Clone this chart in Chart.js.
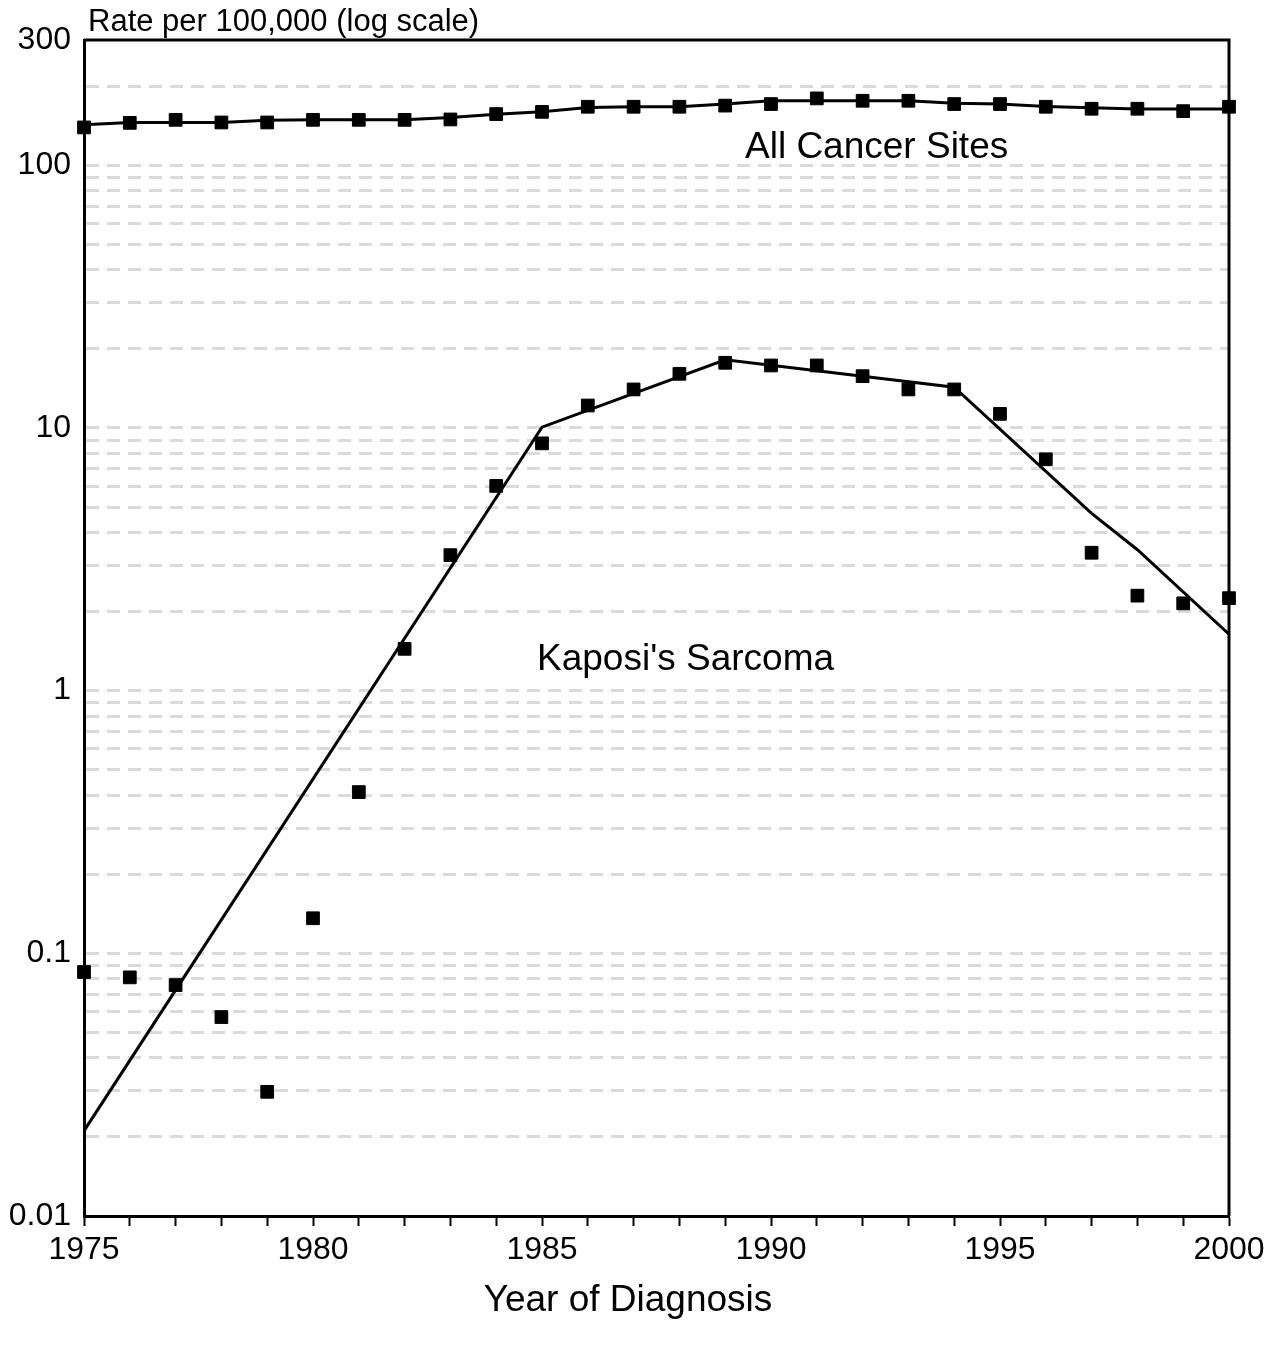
<!DOCTYPE html>
<html lang="en">
<head>
  <meta charset="UTF-8" />
  <title>Kaposi's Sarcoma vs All Cancer Sites</title>
  <style>
    body { margin: 0; background: #fff; }
  </style>
</head>
<body>

  <div style="width: 1280px; height: 1347px;">
    <canvas id="myChart"></canvas>
  </div>

  <script src="https://cdn.jsdelivr.net/npm/chart.js"></script>

  <script>
    // years of diagnosis
    const years = [1975, 1976, 1977, 1978, 1979, 1980, 1981, 1982, 1983, 1984, 1985, 1986, 1987,
                   1988, 1989, 1990, 1991, 1992, 1993, 1994, 1995, 1996, 1997, 1998, 1999, 2000];

    // rate per 100,000 - observed points
    const allSitesObserved = [139.4, 145.1, 149.0, 145.6, 145.6, 149.0, 149.0, 149.0, 149.5, 156.7, 159.8, 167.1, 167.1,
                              167.1, 168.8, 171.1, 179.8, 176.1, 176.1, 171.1, 171.1, 167.1, 164.2, 164.2, 160.8, 167.1];
    // fitted trend
    const allSitesFitted = [142.6, 145.6, 145.6, 145.6, 148.3, 149.0, 149.0, 149.0, 152.2, 156.5, 159.8, 165.9, 167.1,
                            167.1, 171.1, 176.1, 176.1, 176.1, 176.1, 172.2, 171.1, 167.6, 165.6, 163.7, 163.7, 163.7];

    const kaposiObserved = [0.0849, 0.0810, 0.0757, 0.0572, 0.0297, 0.136, 0.411, 1.443, 3.28, 6.02, 8.74, 12.18, 14.02,
                            16.08, 17.71, 17.30, 17.30, 15.75, 14.02, 14.02, 11.32, 7.60, 3.35, 2.30, 2.15, 2.25];
    // joinpoint trend: only the bend points
    const kaposiJoinYears = [1975, 1985, 1989, 1994, 1997, 1998, 2000];
    const kaposiJoinFitted = [0.0211, 10.07, 18.19, 14.3, 4.73, 3.44, 1.64];

    // axis labels
    const yLabelValues = [0.01, 0.1, 1, 10, 100, 300];
    const yLabelText = ['0.01', '0.1', '1', '10', '100', '300'];
    const yDecades = [0.01, 0.1, 1, 10, 100];
    const xLabelStep = 5;

    const toPoints = (xs, ys) => xs.map((x, i) => ({ x: x, y: ys[i] }));
    const near = (a, b) => Math.abs(a - b) / b < 1e-6;

    // top + right edge of the plot box, and free text
    const framePlugin = {
      id: 'frame',
      beforeDatasetsDraw(chart) {
        const { ctx, chartArea: a } = chart;
        ctx.save();
        ctx.strokeStyle = '#000';
        ctx.lineWidth = 3;
        ctx.beginPath();
        ctx.moveTo(a.left, a.top);
        ctx.lineTo(a.right, a.top);
        ctx.lineTo(a.right, a.bottom);
        ctx.stroke();
        ctx.restore();
      },
      afterDraw(chart) {
        const { ctx, chartArea: a } = chart;
        ctx.save();
        ctx.fillStyle = '#000';
        ctx.textBaseline = 'alphabetic';
        ctx.textAlign = 'left';
        ctx.font = '31px "Liberation Sans", Arial, sans-serif';
        ctx.fillText('Rate per 100,000 (log scale)', a.left + 4, 31);
        ctx.font = '37px "Liberation Sans", Arial, sans-serif';
        ctx.fillText('All Cancer Sites', 745, 158);
        ctx.fillText("Kaposi's Sarcoma", 537, 670);
        ctx.textAlign = 'center';
        ctx.fillText('Year of Diagnosis', 628, 1311);
        ctx.restore();
      }
    };

    const pointStyleOpts = {
      showLine: false,
      pointStyle: 'rect',
      pointRadius: 9,
      pointHoverRadius: 9,
      pointBackgroundColor: '#000',
      pointBorderColor: '#000',
      pointBorderWidth: 1,
      clip: false
    };
    const lineStyleOpts = {
      borderColor: '#000',
      borderWidth: 3,
      pointRadius: 0,
      pointHoverRadius: 0,
      fill: false,
      tension: 0
    };

    Chart.defaults.font.family = '"Liberation Sans", Arial, sans-serif';
    Chart.defaults.color = '#000';

    var context = document.getElementById('myChart').getContext('2d');
    var myChart = new Chart(context, {
      type: 'line',
      data: {
        datasets: [
          Object.assign({ label: 'All Cancer Sites (fit)', data: toPoints(years, allSitesFitted) }, lineStyleOpts),
          Object.assign({ label: 'All Cancer Sites', data: toPoints(years, allSitesObserved) }, pointStyleOpts),
          Object.assign({ label: "Kaposi's Sarcoma (fit)", data: toPoints(kaposiJoinYears, kaposiJoinFitted) }, lineStyleOpts),
          Object.assign({ label: "Kaposi's Sarcoma", data: toPoints(years, kaposiObserved) }, pointStyleOpts)
        ]
      },
      options: {
        responsive: true,
        maintainAspectRatio: false,
        animation: false,
        layout: { padding: { top: 40, right: 51, left: 0, bottom: 0 } },
        plugins: {
          legend: { display: false },
          tooltip: { enabled: false }
        },
        scales: {
          x: {
            type: 'linear',
            min: years[0],
            max: years[years.length - 1],
            afterFit: (scale) => { scale.height = 131; },
            ticks: {
              stepSize: 1,
              autoSkip: false,
              maxRotation: 0,
              padding: 5,
              font: { size: 32 },
              callback: (v) => (v % xLabelStep === 0 ? String(v) : '')
            },
            grid: {
              drawOnChartArea: false,
              drawTicks: true,
              tickLength: 10,
              tickColor: '#000',
              tickWidth: 2
            },
            border: { display: true, color: '#000', width: 3 }
          },
          y: {
            type: 'logarithmic',
            min: 0.01,
            max: 300,
            afterFit: (scale) => { scale.width = 84; },
            afterBuildTicks: (scale) => {
              const vals = [];
              yDecades.forEach((d) => {
                for (let m = 1; m <= 9; m++) {
                  const v = +(d * m).toPrecision(6);
                  if (v <= 300) vals.push({ value: v });
                }
              });
              if (!vals.some((t) => near(t.value, 300))) vals.push({ value: 300 });
              scale.ticks = vals;
            },
            ticks: {
              autoSkip: false,
              padding: 13,
              font: { size: 32 },
              callback: (v) => {
                const i = yLabelValues.findIndex((l) => near(v, l));
                return i >= 0 ? yLabelText[i] : '';
              }
            },
            grid: {
              drawTicks: false,
              lineWidth: 3,
              color: (ctx) => {
                const v = ctx.tick ? ctx.tick.value : null;
                if (v === null || near(v, 300) || near(v, 0.01)) return 'rgba(0,0,0,0)';
                return '#dadada';
              }
            },
            border: { display: true, color: '#000', width: 3, dash: [13, 8] }
          }
        }
      },
      plugins: [framePlugin]
    });
  </script>

</body>
</html>
